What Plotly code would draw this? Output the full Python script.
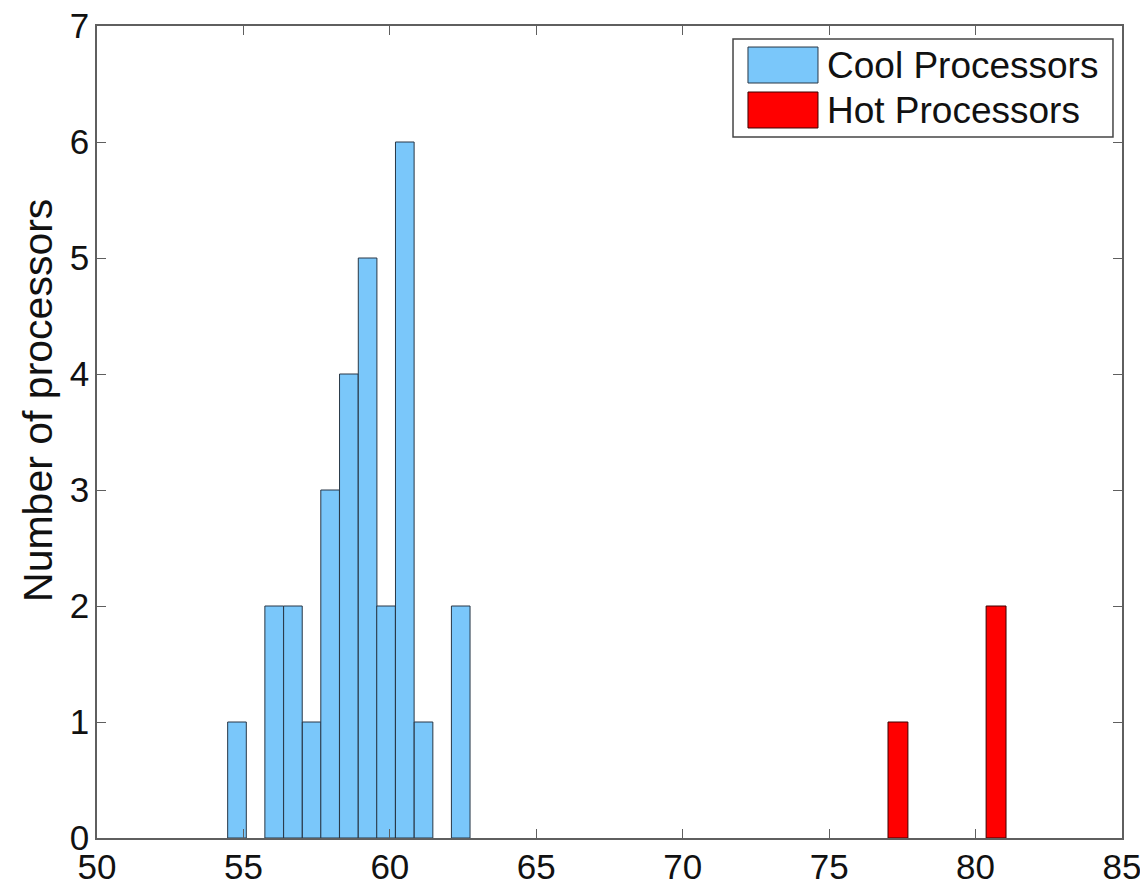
import plotly.graph_objects as go

# ---- data ----
cool_centers = [54.78, 56.05, 56.69, 57.33, 57.96, 58.60, 59.24, 59.87, 60.51, 61.15, 62.42]
cool_counts = [1, 2, 2, 1, 3, 4, 5, 2, 6, 1, 2]
cool_width = 0.636

hot_centers = [77.35, 80.70]
hot_counts = [1, 2]
hot_width = 0.68

x_ticks = [50, 55, 60, 65, 70, 75, 80, 85]
y_ticks = [0, 1, 2, 3, 4, 5, 6, 7]
legend_labels = ["Cool Processors", "Hot Processors"]
y_title = "Number of processors"
cool_color = "rgb(122,199,250)"
hot_color = "rgb(255,0,0)"

FONT = "Liberation Sans, Arial, Helvetica, sans-serif"

fig = go.Figure()
fig.add_trace(go.Bar(
    x=cool_centers, y=cool_counts, width=cool_width,
    marker=dict(color=cool_color, line=dict(color="rgb(40,55,70)", width=1)),
    name=legend_labels[0], showlegend=False,
))
fig.add_trace(go.Bar(
    x=hot_centers, y=hot_counts, width=hot_width,
    marker=dict(color=hot_color, line=dict(color="rgb(60,0,0)", width=1)),
    name=legend_labels[1], showlegend=False,
))

axis_common = dict(
    showgrid=False, zeroline=False, showline=True, linecolor="rgb(95,95,95)",
    linewidth=1.5, mirror="ticks", ticks="inside", ticklen=9, tickwidth=1,
    tickcolor="rgb(95,95,95)", ticklabeloverflow="allow",
    tickfont=dict(family=FONT, size=35, color="#111"),
)

fig.update_xaxes(range=[50, 85], tickvals=x_ticks, ticktext=[str(v) for v in x_ticks],
                 ticklabelstandoff=-3, **axis_common)
fig.update_yaxes(range=[0, 7], tickvals=y_ticks, ticktext=[str(v) for v in y_ticks],
                 ticklabelstandoff=-1, **axis_common)

# ---- legend box drawn in paper coordinates ----
shapes = [
    dict(type="rect", xref="paper", yref="paper", x0=0.6205, x1=0.9912, y0=0.8633, y1=0.984,
         line=dict(color="rgb(70,70,70)", width=1.5), fillcolor="white", layer="above"),
    dict(type="rect", xref="paper", yref="paper", x0=0.6351, x1=0.7034, y0=0.9298, y1=0.9741,
         line=dict(color="rgb(40,55,70)", width=1), fillcolor=cool_color, layer="above"),
    dict(type="rect", xref="paper", yref="paper", x0=0.6351, x1=0.7034, y0=0.8744, y1=0.9187,
         line=dict(color="rgb(60,0,0)", width=1), fillcolor=hot_color, layer="above"),
]
annotations = [
    dict(xref="paper", yref="paper", x=0.7102, y=0.9514, text=legend_labels[0], showarrow=False,
         xanchor="left", yanchor="middle", font=dict(family=FONT, size=37, color="#111")),
    dict(xref="paper", yref="paper", x=0.7102, y=0.8960, text=legend_labels[1], showarrow=False,
         xanchor="left", yanchor="middle", font=dict(family=FONT, size=37, color="#111")),
    dict(xref="paper", yref="paper", x=-0.0576, y=0.5394, text=y_title, showarrow=False,
         textangle=-90, xanchor="center", yanchor="middle",
         font=dict(family=FONT, size=41, color="#111")),
]

# page body has an 8px margin, so the figure is offset by (8, 8) on screen
fig.update_layout(
    width=1140, height=875,
    margin=dict(l=89, r=26, t=18, b=45, autoexpand=False),
    plot_bgcolor="white", paper_bgcolor="white",
    barmode="overlay",
    shapes=shapes, annotations=annotations,
    font=dict(family=FONT),
)

fig.write_html("out.html")
